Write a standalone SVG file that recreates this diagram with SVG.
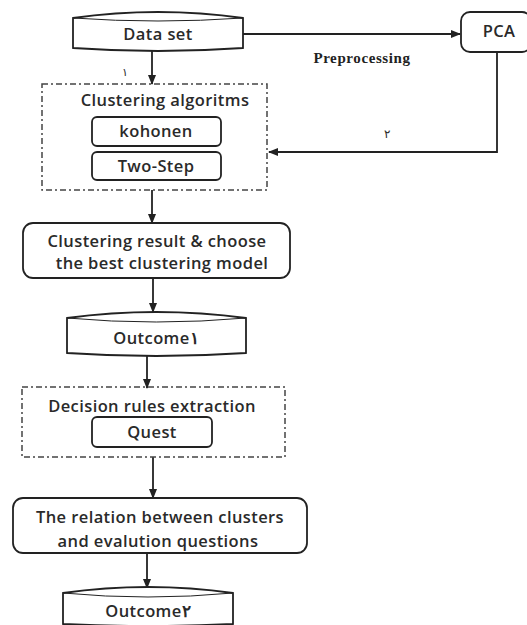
<svg xmlns="http://www.w3.org/2000/svg" width="527" height="625" viewBox="0 0 527 625">
<style>
.box{fill:#fff;stroke:#222;stroke-width:1.8}
.dash{fill:none;stroke:#444;stroke-width:1.5;stroke-dasharray:6,3,2,3}
.t{font-family:"Open Sans","Liberation Sans",sans-serif;font-size:16.5px;font-weight:600;letter-spacing:0.4px;fill:#2a2a2a;text-anchor:middle}
.c{fill:none;stroke:#222;stroke-width:1.8}
.s{font-family:"Liberation Serif",serif;font-size:15px;font-weight:bold;letter-spacing:0.6px;fill:#222;text-anchor:middle}
</style>
<defs>
<marker id="ah" markerWidth="10" markerHeight="8" refX="9" refY="4" orient="auto" markerUnits="userSpaceOnUse">
<path d="M0,0 L10,4 L0,8 Z" fill="#222"/>
</marker>
</defs>
<rect width="527" height="625" fill="#fff"/>
<g id="connectors">
<line class="c" x1="243" y1="34" x2="460" y2="34" marker-end="url(#ah)"/>
<polyline class="c" points="497,52 497,152 269,152" marker-end="url(#ah)"/>
<line class="c" x1="152" y1="50" x2="152" y2="84" marker-end="url(#ah)"/>
<line class="c" x1="152" y1="190" x2="152" y2="223" marker-end="url(#ah)"/>
<line class="c" x1="153" y1="278" x2="153" y2="312" marker-end="url(#ah)"/>
<line class="c" x1="147" y1="355" x2="147" y2="388" marker-end="url(#ah)"/>
<line class="c" x1="153" y1="457" x2="153" y2="498" marker-end="url(#ah)"/>
<line class="c" x1="147" y1="553" x2="147" y2="588" marker-end="url(#ah)"/>
<text class="s" x="362" y="63">Preprocessing</text>
<text class="t" x="125" y="76" style="font-size:11px;font-weight:normal">١</text>
<text class="t" x="387" y="138" style="font-size:12px;font-weight:normal">٢</text>
</g>
<g id="dataset">
<path class="box" d="M73,18 Q158,6 243,18 L243,48 Q158,54 73,48 Z"/>
<path class="c" d="M73,18 Q158,24 243,18" style="stroke-width:1"/>
<text class="t" x="158" y="40">Data set</text>
</g>
<g id="pca">
<rect class="box" x="461" y="12" width="70" height="40" rx="9"/>
<text class="t" x="499" y="37">PCA</text>
</g>
<g id="clustering">
<rect class="dash" x="42" y="84" width="225" height="106"/>
<text class="t" x="165" y="106">Clustering algoritms</text>
</g>
<g id="kohonen">
<rect class="box" x="92" y="117" width="129" height="29" rx="5"/>
<text class="t" x="156" y="137">kohonen</text>
</g>
<g id="twostep">
<rect class="box" x="92" y="152" width="129" height="28" rx="5"/>
<text class="t" x="156" y="172">Two-Step</text>
</g>
<g id="result">
<rect class="box" x="23" y="223" width="267" height="55" rx="10"/>
<text class="t" x="157" y="247">Clustering result &amp; choose</text>
<text class="t" x="162" y="269">the best clustering model</text>
</g>
<g id="outcome1">
<path class="box" d="M67,318 Q156,306 246,318 L246,353 Q156,359 67,353 Z"/>
<path class="c" d="M67,318 Q156,326 246,318" style="stroke-width:1"/>
<text class="t" x="156" y="344">Outcome١</text>
</g>
<g id="decision">
<rect class="dash" x="22" y="387" width="263" height="70"/>
<text class="t" x="152" y="412">Decision rules extraction</text>
</g>
<g id="quest">
<rect class="box" x="92" y="417" width="120" height="30" rx="5"/>
<text class="t" x="152" y="438">Quest</text>
</g>
<g id="relation">
<rect class="box" x="13" y="498" width="294" height="55" rx="10"/>
<text class="t" x="160" y="523">The relation between clusters</text>
<text class="t" x="158" y="547">and evalution questions</text>
</g>
<g id="outcome2">
<path class="box" d="M63,593 Q148,581 233,593 L233,624 Q148,628 63,624 Z"/>
<path class="c" d="M63,593 Q148,601 233,593" style="stroke-width:1"/>
<text class="t" x="148" y="617">Outcome٢</text>
</g>
</svg>
